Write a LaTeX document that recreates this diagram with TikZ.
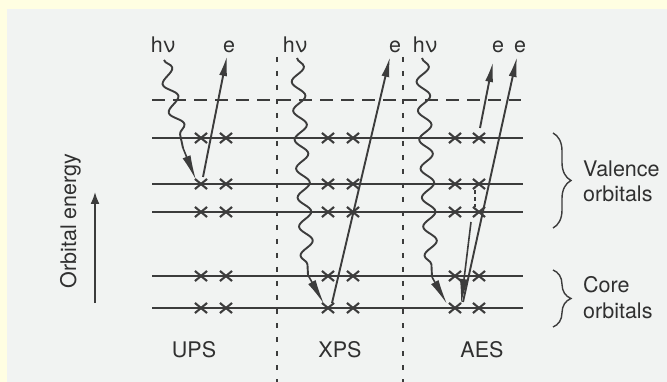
\documentclass[tikz,border=0pt]{standalone}
\usepackage{fontspec}
\setmainfont{TeX Gyre Heros}
\usetikzlibrary{arrows.meta,decorations.pathmorphing,decorations.pathreplacing,shapes.misc}
\definecolor{cream}{RGB}{255,254,226}
\definecolor{panel}{RGB}{241,243,242}
\definecolor{ink}{RGB}{60,60,60}
\definecolor{txt}{RGB}{48,48,48}
\begin{document}
\begin{tikzpicture}[x=1pt,y=-1pt,
  level/.style={ink,line width=2.2pt},
  vac/.style={ink,line width=1.5pt,dash pattern=on 13pt off 8pt},
  divider/.style={ink,line width=1.4pt,dash pattern=on 5pt off 9pt},
  xmark/.style={cross out,draw=ink,line width=2.1pt,minimum width=10pt,minimum height=8pt,inner sep=0pt},
  lbl/.style={text=txt,font=\fontsize{21.5}{25}\selectfont,inner sep=0pt},
  wave/.style={ink,line width=1.9pt,decorate,decoration={snake,segment length=29pt,amplitude=6.5pt}},
  wedge/.style={ink,line width=1.6pt,-{Latex[length=25pt,width=8.5pt]}},
  elec/.style={ink,line width=1.9pt,-{Latex[length=20pt,width=8pt]}},
  brc/.style={ink,line width=1.4pt,decorate,decoration={brace,amplitude=18pt}}
]
\useasboundingbox (0,0) rectangle (667,382);
\fill[cream] (0,0) rectangle (667,382);
\fill[panel] (7,9) rectangle (667,382);

% dividers
\coordinate (d1t) at (277,57); \coordinate (d1b) at (277,382);
\coordinate (d2t) at (403,57); \coordinate (d2b) at (403,382);
\draw[divider] (d1t) -- (d1b);
\draw[divider] (d2t) -- (d2b);

% vacuum level
\coordinate (vw) at (152,100); \coordinate (ve) at (521,100);
\draw[vac] (vw) -- (ve);

% orbital levels and electrons
\foreach \y [count=\i] in {138,184,212,276,308}{
  \coordinate (L\i w) at (152,\y);
  \coordinate (L\i e) at (523,\y);
  \draw[level] (L\i w) -- (L\i e);
  \foreach \x/\n in {201/ua,226/ub,328/xa,353/xb,455/aa,479/ab}
    \node[xmark] (\n\i) at (\x,\y) {};
}

% UPS
\coordinate (uw0) at (164,60); \coordinate (uw1) at (183,148); \coordinate (uw2) at (196,180);
\draw[wave] (uw0) -- (uw1);
\draw[wedge] (uw1) -- (uw2);
\coordinate (ue0) at (203,177); \coordinate (ue1) at (227,56);
\draw[elec] (ue0) -- (ue1);

% XPS
\coordinate (xw0) at (297,58); \coordinate (xw1) at (308,275); \coordinate (xw2) at (324,304);
\draw[wave] (xw0) -- (xw1);
\draw[wedge] (xw1) -- (xw2);
\coordinate (xe0) at (332,303); \coordinate (xe1) at (390,57);
\draw[elec] (xe0) -- (xe1);

% AES
\coordinate (aw0) at (422,58); \coordinate (aw1) at (432,277); \coordinate (aw2) at (447,304);
\draw[wave] (aw0) -- (aw1);
\draw[wedge] (aw1) -- (aw2);
\coordinate (af0) at (471,222); \coordinate (af1) at (461,304);
\draw[wedge] (af0) -- (af1);
\coordinate (ap0) at (463,302); \coordinate (ap1) at (517,57);
\draw[elec] (ap0) -- (ap1);
\coordinate (aa0) at (480,128); \coordinate (aa1) at (493,62);
\draw[elec] (aa0) -- (aa1);
\coordinate (ad0) at (475,190); \coordinate (ad1) at (475,207);
\draw[ink,line width=1.4pt,dash pattern=on 4pt off 3pt] (ad0) -- (ad1);

% top labels
\node[lbl,anchor=base] (hv1) at (163,53) {hν};
\node[lbl,anchor=base] (e1) at (229,53) {e};
\node[lbl,anchor=base] (hv2) at (295,53) {hν};
\node[lbl,anchor=base] (e2) at (395,53) {e};
\node[lbl,anchor=base] (hv3) at (425,53) {hν};
\node[lbl,anchor=base] (e3) at (498,53) {e};
\node[lbl,anchor=base] (e4) at (520,53) {e};

% bottom labels
\node[lbl,anchor=base] (ups) at (194,357) {UPS};
\node[lbl,anchor=base] (xps) at (340,357) {XPS};
\node[lbl,anchor=base] (aes) at (482,357) {AES};

% energy axis
\node[lbl,anchor=base,rotate=90] (oe) at (76,221) {Orbital energy};
\coordinate (ea0) at (95,303); \coordinate (ea1) at (95,192);
\draw[ink,line width=1.7pt,-{Latex[length=12pt,width=9pt]}] (ea0) -- (ea1);

% braces
\coordinate (vb0) at (553,133); \coordinate (vb1) at (553,228);
\draw[brc] (vb0) -- (vb1);
\coordinate (cb0) at (553,270); \coordinate (cb1) at (553,327);
\draw[brc] (cb0) -- (cb1);
\node[lbl,anchor=base west] (val1) at (583,177) {Valence};
\node[lbl,anchor=base west] (val2) at (583,202) {orbitals};
\node[lbl,anchor=base west] (cor1) at (583,292) {Core};
\node[lbl,anchor=base west] (cor2) at (583,318) {orbitals};
\end{tikzpicture}
\end{document}
